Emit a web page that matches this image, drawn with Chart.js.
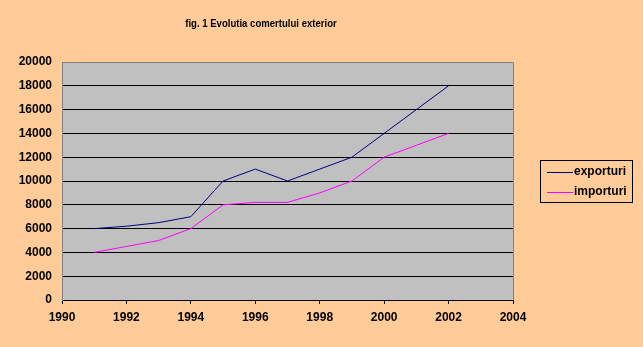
<!DOCTYPE html>
<html>
<head>
<meta charset="utf-8">
<script src="https://cdn.jsdelivr.net/npm/chart.js@4.4.1/dist/chart.umd.min.js"></script>
<style>
  html, body { margin: 0; padding: 0; background: #FFCC99; }
  #wrap { width: 643px; height: 347px; position: relative; }
</style>
</head>
<body>
<div id="wrap"><canvas id="chart" width="643" height="347"></canvas></div>
<script>
// date
const years = [1991, 1992, 1993, 1994, 1995, 1996, 1997, 1998, 1999, 2000, 2001, 2002];
const exporturi = [6000, 6200, 6500, 7000, 10000, 11000, 10000, 11000, 12000, 14000, 16000, 18000];
const importuri = [4000, 4500, 5000, 6000, 8000, 8200, 8200, 9000, 10000, 12000, 13000, 14000];
const titleText = 'fig. 1 Evolutia comertului exterior';
const seriesNames = ['exporturi', 'importuri'];
const seriesColors = ['#000080', '#FF00FF'];

const toPoints = vals => years.map((y, i) => ({ x: y, y: vals[i] }));

// fundal gri + chenar
const plotBg = {
    id: 'plotBg',
    beforeDraw(chart) {
        const { ctx, chartArea: a } = chart;
        ctx.save();
        ctx.fillStyle = '#C0C0C0';
        ctx.fillRect(a.left, a.top, a.right - a.left, a.bottom - a.top);
        ctx.restore();
    },
    afterDraw(chart) {
        const { ctx, chartArea: a } = chart;
        ctx.save();
        ctx.strokeStyle = '#808080';
        ctx.lineWidth = 1;
        ctx.beginPath();
        ctx.moveTo(a.left, a.top + 0.5);
        ctx.lineTo(a.right + 0.5, a.top + 0.5);
        ctx.lineTo(a.right + 0.5, a.bottom);
        ctx.stroke();
        ctx.restore();
    }
};

// titlu si legenda
const extras = {
    id: 'extras',
    afterDraw(chart) {
        const ctx = chart.ctx;
        ctx.save();
        ctx.fillStyle = '#000';
        ctx.font = "bold 11px 'Liberation Sans', Arial, sans-serif";
        ctx.textAlign = 'center';
        ctx.textBaseline = 'middle';
        // titlul din original e ingust
        ctx.translate(261, 24);
        ctx.scale(0.87, 1);
        ctx.fillText(titleText, 0, 0);
        ctx.setTransform(1, 0, 0, 1, 0, 0);

        // legenda
        ctx.strokeStyle = '#000';
        ctx.lineWidth = 1;
        ctx.strokeRect(540.5, 160.5, 92, 42);
        ctx.font = "bold 12px 'Liberation Sans', Arial, sans-serif";
        ctx.textAlign = 'left';
        chart.data.datasets.forEach((ds, i) => {
            const y = 172 + i * 20;
            ctx.strokeStyle = ds.borderColor;
            ctx.beginPath();
            ctx.moveTo(547, y + 0.5);
            ctx.lineTo(573, y + 0.5);
            ctx.stroke();
            ctx.fillStyle = '#000';
            ctx.fillText(ds.label, 574, y);
        });
        ctx.restore();
    }
};

new Chart(document.getElementById('chart'), {
    type: 'line',
    data: {
        datasets: [
            { label: seriesNames[0], data: toPoints(exporturi), borderColor: seriesColors[0], borderWidth: 1, pointRadius: 0, tension: 0, fill: false },
            { label: seriesNames[1], data: toPoints(importuri), borderColor: seriesColors[1], borderWidth: 1, pointRadius: 0, tension: 0, fill: false }
        ]
    },
    options: {
        responsive: false,
        animation: false,
        layout: { padding: { top: 62, right: 130, left: 0, bottom: 0 } },
        plugins: {
            legend: { display: false },
            title: { display: false },
            tooltip: { enabled: false }
        },
        scales: {
            x: {
                type: 'linear',
                min: 1990, max: 2004,
                afterFit: s => { s.height = 47; },
                grid: { drawOnChartArea: false, drawTicks: true, tickLength: 4, color: '#000' },
                border: { color: '#000' },
                ticks: {
                    stepSize: 2, padding: 6, color: '#000',
                    font: { family: "'Liberation Sans', Arial, sans-serif", size: 12, weight: 'bold' },
                    callback: v => String(v)
                }
            },
            y: {
                min: 0, max: 20000,
                afterFit: s => { s.width = 62; },
                grid: { color: '#000', drawTicks: false },
                border: { color: '#808080' },
                ticks: {
                    stepSize: 2000, padding: 10, color: '#000',
                    font: { family: "'Liberation Sans', Arial, sans-serif", size: 12, weight: 'bold' },
                    callback: v => String(v)
                }
            }
        }
    },
    plugins: [plotBg, extras]
});
</script>
</body>
</html>
